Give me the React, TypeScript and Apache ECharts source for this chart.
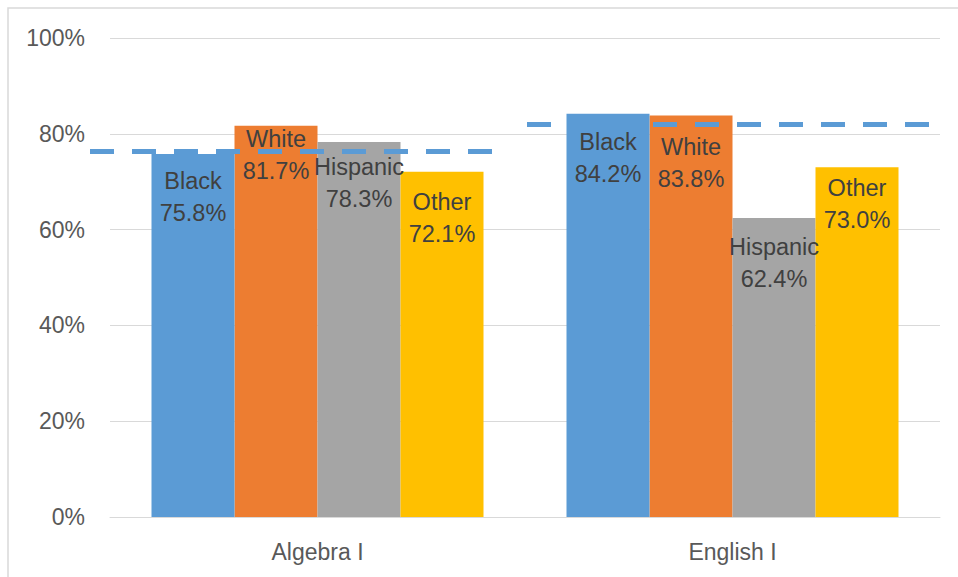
import React, { useEffect, useRef } from "react";
import * as echarts from "echarts";

const categories = ["Algebra I", "English I"];
const seriesNames = ["Black", "White", "Hispanic", "Other"];
const blackValues = [75.8, 84.2];
const whiteValues = [81.7, 83.8];
const hispanicValues = [78.3, 62.4];
const otherValues = [72.1, 73.0];
const averageValues = [76.3, 81.9];
const yTicks = { min: 0, max: 100, interval: 20 };

const colors = ["#5B9BD5", "#ED7D31", "#A5A5A5", "#FFC000"];
// label vertical offsets (layout only)
const labelOffsets = [
  [11, 12],
  [-3, 15],
  [9, 13],
  [14, 5],
];
// horizontal extents of the average lines in pixels (layout only)
const avgExtents = [
  [90, 493],
  [527, 940],
];

export default function App() {
  const ref = useRef<HTMLDivElement>(null);
  useEffect(() => {
    document.body.style.margin = "0";
    const chart = echarts.init(ref.current!, null, { renderer: "svg" });
    const allValues = [blackValues, whiteValues, hispanicValues, otherValues];
    const series: any[] = allValues.map((vals, si) => ({
      name: seriesNames[si],
      type: "bar",
      z: si === 0 ? 4 : 2,
      barGap: "0%",
      barCategoryGap: "20%",
      itemStyle: { color: colors[si] },
      data: vals.map((v, ci) => ({
        value: v,
        label: { offset: [0, labelOffsets[si][ci]] },
      })),
      label: {
        show: true,
        position: "insideTop",
        distance: 0,
        formatter: (p: any) => `${p.seriesName}\n${Number(p.value).toFixed(1)}%`,
        color: "#404040",
        fontSize: 23.5,
        lineHeight: 32,
        fontFamily: "Liberation Sans, Arial, sans-serif",
      },
    }));
    const option: any = {
      animation: false,
      backgroundColor: "#FFFFFF",
      grid: { left: 110, right: 18, top: 38, bottom: 60, containLabel: false },
      xAxis: {
        type: "category",
        data: categories,
        axisLine: { lineStyle: { color: "#D9D9D9", width: 1 } },
        axisTick: { show: false },
        axisLabel: {
          color: "#595959",
          fontSize: 23,
          margin: 23,
          fontFamily: "Liberation Sans, Arial, sans-serif",
        },
      },
      yAxis: {
        type: "value",
        min: yTicks.min,
        max: yTicks.max,
        interval: yTicks.interval,
        axisLine: { show: false },
        axisTick: { show: false },
        splitLine: { lineStyle: { color: "#D9D9D9", width: 1 } },
        axisLabel: {
          formatter: "{value}%",
          color: "#595959",
          fontSize: 23,
          margin: 25,
          fontFamily: "Liberation Sans, Arial, sans-serif",
        },
      },
      graphic: [
        {
          type: "rect",
          shape: { x: 8, y: 8, width: 1200, height: 1200 },
          style: { fill: "none", stroke: "#D9D9D9", lineWidth: 1.5 },
          silent: true,
          z: -1,
        },
      ],
      series,
    };
    chart.setOption(option);
    // average dashed lines, positioned via the library's y scale
    const lines = averageValues.map((avg, i) => {
      const y = chart.convertToPixel({ yAxisIndex: 0 }, avg) as number;
      return [
        { x: avgExtents[i][0], y },
        { x: avgExtents[i][1], y },
      ];
    });
    chart.setOption({
      series: [
        {},
        {
          markLine: {
            silent: true,
            symbol: "none",
            z: 3,
            label: { show: false },
            lineStyle: { color: "#5B9BD5", width: 5, type: [24, 18] },
            emphasis: { disabled: true },
            data: lines,
          },
        },
      ],
    });
    return () => chart.dispose();
  }, []);
  return <div ref={ref} style={{ width: 958, height: 577 }} />;
}
